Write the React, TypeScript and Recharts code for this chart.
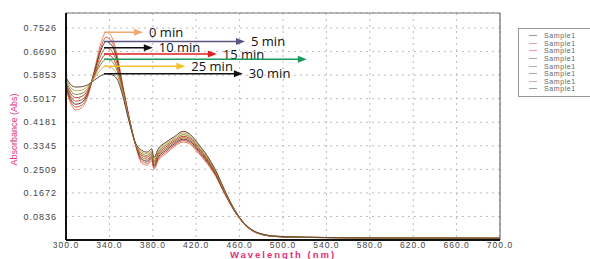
import React from "react";
import {
  LineChart,
  Line,
  XAxis,
  YAxis,
  CartesianGrid,
  ReferenceLine,
  Legend,
  Label,
} from "recharts";

// wavelength (nm) sample points
const wavelengths = [
  300, 304, 309, 314, 320, 326, 332, 337, 342, 347, 352, 358, 364, 370, 375,
  379, 381, 385, 392, 400, 408, 415, 422, 430, 438, 446, 454, 462, 470, 480,
  495, 520, 560, 600, 650, 700,
];

// absorbance of each run, outer (0 min) curve first
const run0 = [0.535, 0.488, 0.462, 0.468, 0.509, 0.6, 0.697, 0.738, 0.722, 0.66, 0.556, 0.44, 0.338, 0.272, 0.266, 0.282, 0.25, 0.282, 0.306, 0.332, 0.348, 0.338, 0.308, 0.272, 0.226, 0.165, 0.11, 0.066, 0.037, 0.02, 0.012, 0.009, 0.008, 0.007, 0.007, 0.006];
const run1 = [0.54, 0.495, 0.472, 0.477, 0.514, 0.596, 0.683, 0.72, 0.706, 0.65, 0.552, 0.438, 0.339, 0.279, 0.273, 0.289, 0.256, 0.288, 0.312, 0.337, 0.353, 0.343, 0.313, 0.276, 0.229, 0.167, 0.111, 0.067, 0.037, 0.02, 0.012, 0.009, 0.008, 0.007, 0.006, 0.006];
const run2 = [0.548, 0.503, 0.482, 0.487, 0.52, 0.594, 0.672, 0.705, 0.692, 0.641, 0.548, 0.436, 0.34, 0.286, 0.28, 0.295, 0.262, 0.294, 0.318, 0.342, 0.358, 0.348, 0.318, 0.28, 0.232, 0.169, 0.112, 0.067, 0.038, 0.02, 0.012, 0.009, 0.008, 0.007, 0.006, 0.006];
const run3 = [0.553, 0.512, 0.493, 0.497, 0.525, 0.588, 0.655, 0.683, 0.672, 0.628, 0.542, 0.434, 0.341, 0.293, 0.287, 0.301, 0.268, 0.3, 0.324, 0.347, 0.363, 0.353, 0.322, 0.284, 0.235, 0.171, 0.113, 0.068, 0.038, 0.021, 0.012, 0.009, 0.008, 0.007, 0.006, 0.006];
const run4 = [0.56, 0.522, 0.505, 0.509, 0.531, 0.583, 0.637, 0.66, 0.651, 0.614, 0.536, 0.431, 0.342, 0.3, 0.294, 0.307, 0.275, 0.306, 0.33, 0.352, 0.368, 0.358, 0.327, 0.288, 0.238, 0.173, 0.114, 0.068, 0.038, 0.021, 0.013, 0.01, 0.008, 0.007, 0.007, 0.006];
const run5 = [0.566, 0.532, 0.517, 0.52, 0.538, 0.58, 0.623, 0.642, 0.635, 0.603, 0.531, 0.429, 0.343, 0.306, 0.3, 0.313, 0.281, 0.312, 0.336, 0.357, 0.374, 0.363, 0.331, 0.292, 0.241, 0.175, 0.115, 0.069, 0.039, 0.021, 0.013, 0.01, 0.008, 0.007, 0.007, 0.006];
const run6 = [0.572, 0.543, 0.53, 0.532, 0.545, 0.574, 0.604, 0.617, 0.612, 0.588, 0.524, 0.426, 0.344, 0.312, 0.306, 0.318, 0.287, 0.318, 0.341, 0.362, 0.38, 0.368, 0.336, 0.296, 0.244, 0.177, 0.116, 0.069, 0.039, 0.021, 0.013, 0.01, 0.008, 0.007, 0.007, 0.006];
const run7 = [0.578, 0.553, 0.543, 0.544, 0.551, 0.567, 0.583, 0.59, 0.587, 0.572, 0.516, 0.423, 0.345, 0.318, 0.312, 0.324, 0.293, 0.324, 0.347, 0.367, 0.386, 0.373, 0.341, 0.3, 0.247, 0.179, 0.117, 0.07, 0.04, 0.022, 0.013, 0.01, 0.008, 0.007, 0.007, 0.006];

const runs = [run0, run1, run2, run3, run4, run5, run6, run7];
const runNames = ["Sample1", "Sample1", "Sample1", "Sample1", "Sample1", "Sample1", "Sample1", "Sample1"];

const xTicks = [300, 340, 380, 420, 460, 500, 540, 580, 620, 660, 700];
const yTicks = [0.0836, 0.1672, 0.2509, 0.3345, 0.4181, 0.5017, 0.5853, 0.669, 0.7526];

// time arrows drawn from the first peak
const arrowLabels = ["0 min", "5 min", "10 min", "15 min", "", "25 min", "30 min"];
const arrowLevel = [0.738, 0.705, 0.683, 0.66, 0.642, 0.617, 0.59];
const arrowStart = 335;
const arrowEnd = [371, 465, 380, 439, 522, 410, 463];

const lineColors = ["#e8845c", "#d9534f", "#4a3b32", "#b5651d", "#c0392b", "#7f8c3a", "#d4a24c", "#5a4636"];
const legendColors = ["#9a9a9a", "#e8a0b8", "#e89ab0", "#b0a0a8", "#c0a8b0", "#a8a8a8", "#c8b0b8", "#a0a0a0"];
const arrowColors = ["#f0a870", "#5c5480", "#111111", "#e02020", "#1a9a5a", "#f2c230", "#111111"];

const pink = "#e0307a";

const data = wavelengths.map((w, i) => {
  const row: Record<string, number> = { w };
  runs.forEach((r, k) => (row["r" + k] = r[i]));
  return row;
});

const arrowShape = (color: string, text: string) => (p: any) => {
  const { x1, y1, x2, y2 } = p;
  return (
    <g>
      <line x1={x1} y1={y1} x2={x2 - 6} y2={y2} stroke={color} strokeWidth={1.5} />
      <polygon points={`${x2},${y2} ${x2 - 9},${y2 - 3.5} ${x2 - 9},${y2 + 3.5}`} fill={color} />
      {text ? (
        <text x={x2 + 6} y={y2} dy="0.35em" fontSize={13} fontFamily="Open Sans" fill="#111">
          {text}
        </text>
      ) : null}
    </g>
  );
};

const renderLegend = (props: any) => (
  <div
    style={{
      border: "1px solid #999",
      background: "#fff",
      padding: "3px 0 3px 10px",
      fontFamily: "Liberation Sans, Arial",
    }}
  >
    {(props.payload || []).map((e: any, i: number) => (
      <div key={i} style={{ display: "flex", alignItems: "center", height: 7.6 }}>
        <span style={{ width: 8, height: 1, background: legendColors[i], marginRight: 7 }} />
        <span style={{ fontSize: 7, color: "#666", letterSpacing: 0.6 }}>{e.value}</span>
      </div>
    ))}
  </div>
);

export default function App() {
  return (
    <div style={{ width: 590, height: 259, background: "#fff" }}>
      <style>{"body{margin:0}"}</style>
      <LineChart
        width={590}
        height={259}
        data={data}
        margin={{ top: 13, right: 90, left: 0, bottom: 0 }}
        style={{ fontFamily: "Liberation Sans, Arial" }}
      >
        <CartesianGrid stroke="#bbb" strokeDasharray="2 4" />
        <XAxis
          dataKey="w"
          type="number"
          domain={[300, 700]}
          ticks={xTicks}
          tickFormatter={(v: number) => v.toFixed(1)}
          height={19}
          tickSize={2}
          tickMargin={0}
          tickLine={false}
          axisLine={{ stroke: "#111", strokeWidth: 2 }}
          tick={{ fontSize: 8.5, fill: "#444", letterSpacing: 1 }}
        >
          <Label
            content={(p: any) => (
              <text
                x={p.viewBox.x + p.viewBox.width / 2}
                y={p.viewBox.y + 18}
                textAnchor="middle"
                fontSize={9.5}
                fontWeight="bold"
                letterSpacing={2}
                fill={pink}
              >
                Wavelength (nm)
              </text>
            )}
          />
        </XAxis>
        <YAxis
          type="number"
          domain={[0, 0.806]}
          ticks={yTicks}
          tickFormatter={(v: number) => v.toFixed(4)}
          width={66}
          tickLine={false}
          tickMargin={3}
          axisLine={{ stroke: "#111", strokeWidth: 2 }}
          tick={{ fontSize: 9, fill: "#444", letterSpacing: 1 }}
        >
          <Label
            content={(p: any) => {
              const cx = p.viewBox.x + 14;
              const cy = p.viewBox.y + p.viewBox.height / 2 + 3;
              return (
                <text
                  x={cx}
                  y={cy}
                  textAnchor="middle"
                  dominantBaseline="central"
                  fontSize={9}
                  fill={pink}
                  transform={`rotate(-90 ${cx} ${cy})`}
                >
                  Absorbance (Abs)
                </text>
              );
            }}
          />
        </YAxis>
        <ReferenceLine x={700} stroke="#555" strokeWidth={1} />
        <ReferenceLine y={0.806} stroke="#777" strokeWidth={1} />
        {runs.map((_, k) => (
          <Line
            key={k}
            dataKey={"r" + k}
            name={runNames[k]}
            type="monotone"
            stroke={lineColors[k]}
            strokeWidth={1}
            dot={false}
            isAnimationActive={false}
          />
        ))}
        {arrowLabels.map((t, i) => (
          <ReferenceLine
            key={"a" + i}
            segment={[
              { x: arrowStart, y: arrowLevel[i] },
              { x: arrowEnd[i], y: arrowLevel[i] },
            ]}
            stroke={arrowColors[i]}
            shape={arrowShape(arrowColors[i], t)}
          />
        ))}
        <Legend
          layout="vertical"
          align="center"
          verticalAlign="middle"
          wrapperStyle={{ position: "absolute", left: 518, top: 28, width: 76 }}
          content={renderLegend}
        />
      </LineChart>
    </div>
  );
}
